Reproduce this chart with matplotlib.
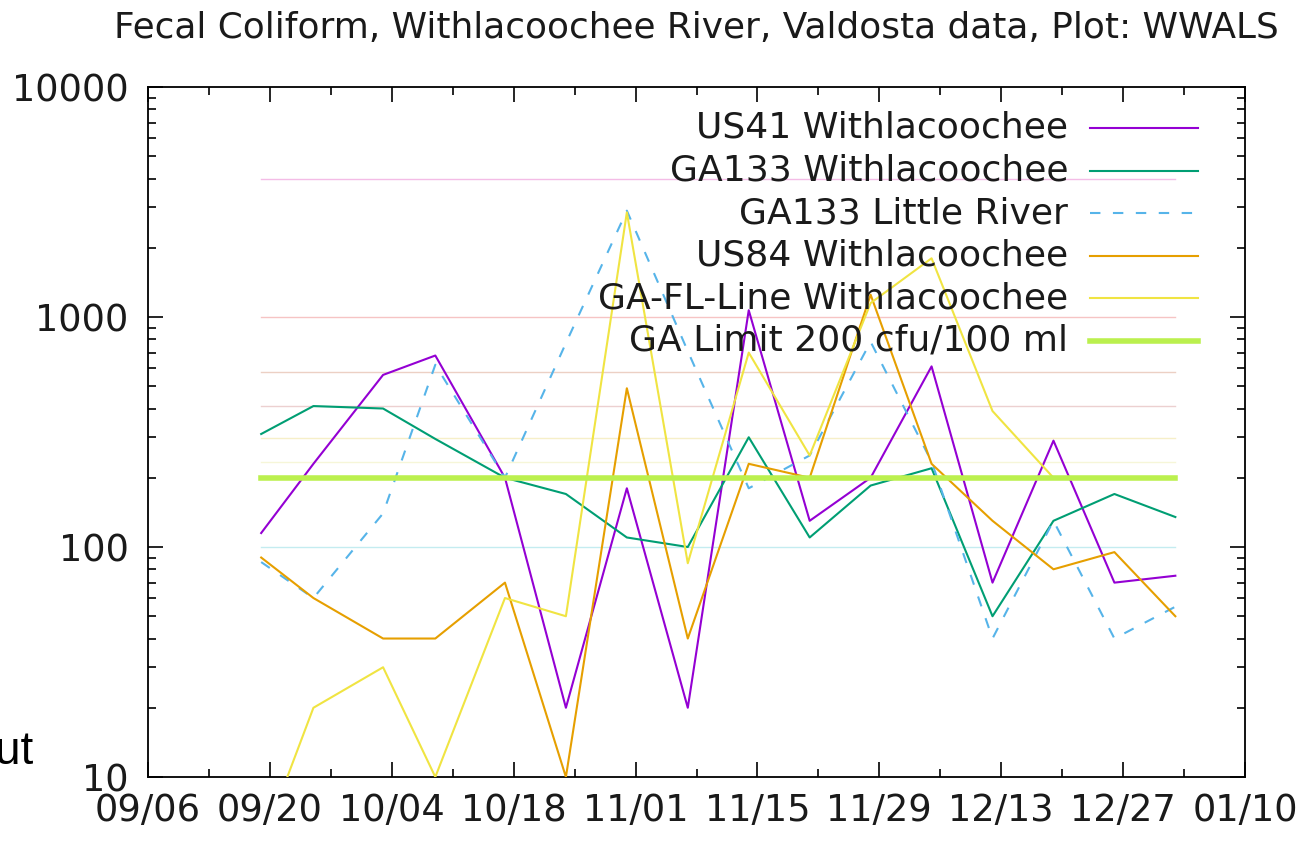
import numpy as np
import pandas as pd
import matplotlib
matplotlib.use("Agg")
import matplotlib.pyplot as plt
import matplotlib.dates as mdates
from matplotlib.ticker import LogLocator, FixedLocator, NullFormatter

# sample dates (weekly, autumn 2016)
dates = pd.to_datetime([
    "2016-09-19", "2016-09-25", "2016-10-03", "2016-10-09", "2016-10-17",
    "2016-10-24", "2016-10-31", "2016-11-07", "2016-11-14", "2016-11-21",
    "2016-11-28", "2016-12-05", "2016-12-12", "2016-12-19", "2016-12-26",
    "2017-01-02",
])

# fecal coliform, cfu/100 ml
us41_withla = [115, 230, 560, 680, 200, 20, 180, 20, 1070, 130, 200, 610, 70, 290, 70, 75]
ga133_withla = [310, 410, 400, 295, 200, 170, 110, 100, 300, 110, 185, 220, 50, 130, 170, 135]
ga133_little = [86, 60, 140, 620, 200, 770, 2900, 710, 180, 250, 780, 235, 40, 130, 40, 55]
us84_withla = [90, 60, 40, 40, 70, 10, 490, 40, 230, 200, 1250, 230, 130, 80, 95, 50]
gafl_withla = [5, 20, 30, 10, 60, 50, 2850, 85, 700, 250, 1150, 1800, 390, 200, np.nan, np.nan]
ga_limit = 200

# faint reference levels drawn across the sampled period
ref_levels = [4000, 1000, 575, 409, 298, 235, 100]
ref_colors = ["#f4bce6", "#f6c4c4", "#ecd0c4", "#ecd0d0", "#f6efc8", "#f6f6d8", "#c4ecf0"]

series = [
    ("US41 Withlacoochee", us41_withla, "#9400d3", "-"),
    ("GA133 Withlacoochee", ga133_withla, "#009e73", "-"),
    ("GA133 Little River", ga133_little, "#56b4e9", (0, (5, 6))),
    ("US84 Withlacoochee", us84_withla, "#e69f00", "-"),
    ("GA-FL-Line Withlacoochee", gafl_withla, "#f0e442", "-"),
]
limit_label = "GA Limit 200 cfu/100 ml"
limit_color = "#bbf04e"

x_ticks = pd.date_range("2016-09-06", "2017-01-10", freq="14D")
x_minor = pd.date_range("2016-09-06", "2017-01-10", freq="7D")

plt.rcParams['font.family'] = ['DejaVu Sans']

fig = plt.figure(figsize=(13.01, 8.41), dpi=100)
ax = fig.add_axes([148 / 1301, 1 - 777 / 841, 1097 / 1301, 690 / 841])

span = [dates[0], dates[-1]]
for lvl, col in zip(ref_levels, ref_colors):
    ax.plot(span, [lvl, lvl], color=col, linewidth=1.0, zorder=1)

for label, vals, col, ls in series:
    ax.plot(dates, vals, color=col, linestyle=ls, linewidth=1.5, zorder=3)

ax.plot(span, [ga_limit, ga_limit], color=limit_color, linewidth=4.0, zorder=4)

ax.set_yscale("log")
ax.set_ylim(10, 10000)
ax.set_xlim(x_ticks[0], x_ticks[-1])

ax.xaxis.set_major_locator(FixedLocator(mdates.date2num(x_ticks)))
ax.xaxis.set_minor_locator(FixedLocator(mdates.date2num(x_minor)))
ax.xaxis.set_major_formatter(mdates.DateFormatter("%m/%d"))

ax.yaxis.set_major_locator(FixedLocator([10, 100, 1000, 10000]))
ax.yaxis.set_major_formatter(plt.FuncFormatter(lambda v, p: f"{int(v)}"))
ax.yaxis.set_minor_locator(LogLocator(base=10, subs=np.arange(2, 10)))
ax.yaxis.set_minor_formatter(NullFormatter())

ax.tick_params(which="both", direction="in", top=True, right=True, width=1.2, color="black")
ax.tick_params(which="major", length=11)
ax.tick_params(which="minor", length=6)
ax.tick_params(axis="x", which="major", labelsize=26.5, pad=11, labelcolor="#1a1a1a")
ax.tick_params(axis="y", which="major", labelsize=26.5, pad=14, labelcolor="#1a1a1a")
for sp in ax.spines.values():
    sp.set_linewidth(1.3)

# gnuplot-style key: right-justified text, sample to the right
key_text_x = (1068 - 148) / 1097
key_line_x = [(1090 - 148) / 1097, (1198 - 148) / 1097]
key_y0 = (777 - 128) / 690
key_dy = 42.6 / 690
entries = [(s[0], s[2], s[3], 1.5) for s in series] + [(limit_label, limit_color, "-", 4.0)]
for i, (label, col, ls, lw) in enumerate(entries):
    yk = key_y0 - i * key_dy
    ax.text(key_text_x, yk, label, transform=ax.transAxes, ha="right", va="center",
            fontsize=26, color="#1a1a1a", zorder=6)
    ax.plot(key_line_x, [yk, yk], transform=ax.transAxes, color=col, linestyle=ls,
            linewidth=lw, zorder=6, clip_on=False)

fig.text(696 / 1301, 1 - 28 / 841, "Fecal Coliform, Withlacoochee River, Valdosta data, Plot: WWALS",
         ha="center", va="center", fontsize=25.8, color="#1a1a1a")

# fragment of neighbouring page text at the left edge
fig.text(-5 / 1301, 1 - 764 / 841, "ut", ha="left", va="baseline", fontsize=33,
         family=["Liberation Sans", "DejaVu Sans"], color="black")

fig.savefig("out.png", dpi=100)
